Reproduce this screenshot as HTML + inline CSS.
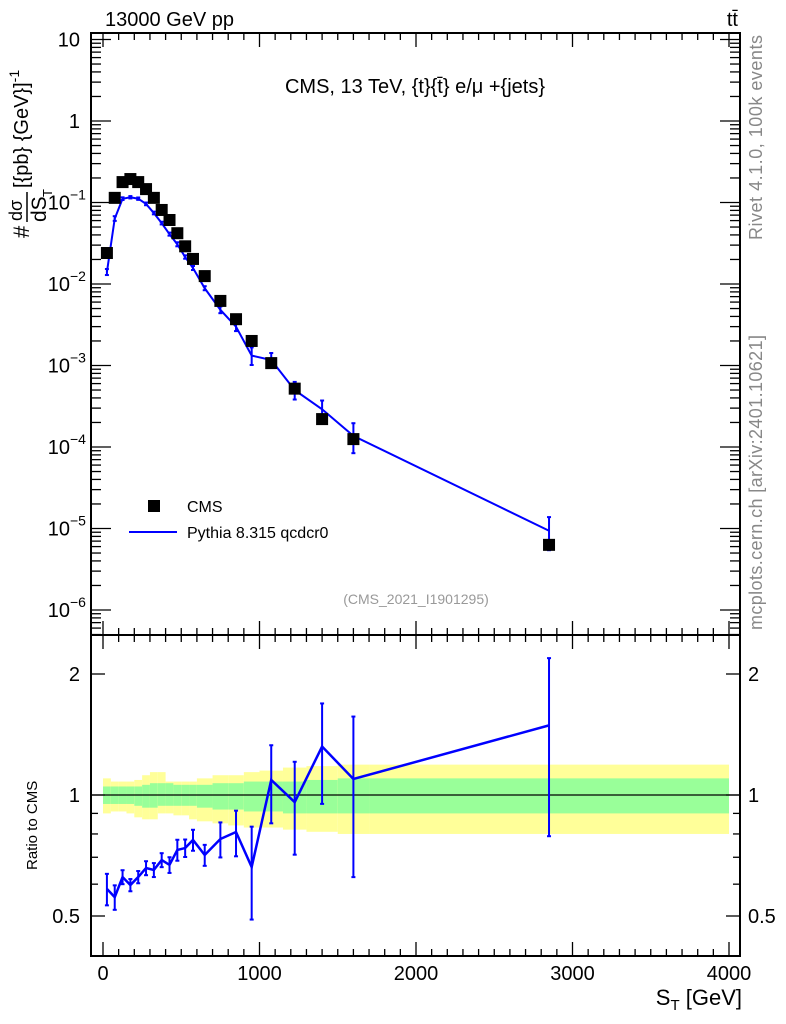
<!DOCTYPE html>
<html><head><meta charset="utf-8"><style>
html,body{margin:0;padding:0;background:#fff;}
svg{display:block;font-family:"Liberation Sans",sans-serif;}
</style></head><body>
<svg id="c" width="786" height="1024" viewBox="0 0 786 1024" xmlns="http://www.w3.org/2000/svg">
<g id="bands"></g>
<g id="marks"></g>
<g id="axes"></g>
<text x="105" y="26" font-size="20">13000 GeV pp</text>
<text x="738" y="26" font-size="20" text-anchor="end">tt̄</text>
<text x="415" y="93" font-size="20" text-anchor="middle">CMS, 13 TeV, {t}{t̄} e/μ +{jets}</text>
<text x="416" y="604" font-size="14" fill="#999" text-anchor="middle">(CMS_2021_I1901295)</text>
<text transform="translate(762,240) rotate(-90)" font-size="18" textLength="205" fill="#888">Rivet 4.1.0,  100k events</text>
<text transform="translate(762,630) rotate(-90)" font-size="18" textLength="295" fill="#888">mcplots.cern.ch [arXiv:2401.10621]</text>
<g transform="translate(0,240) rotate(-90)">
<text x="2" y="29" font-size="22">#</text>
<text x="19" y="22" font-size="18">dσ</text>
<line x1="18" y1="27" x2="48" y2="27" stroke="#000" stroke-width="1.5"/>
<text x="18" y="46" font-size="21">dS</text>
<text x="43" y="52" font-size="13">T</text>
<text x="52" y="28" font-size="20">[{pb} {GeV}]<tspan font-size="14" dy="-9">-1</tspan></text>
</g>
<text transform="translate(37,870) rotate(-90)" font-size="15">Ratio to CMS</text>
<text x="742" y="1005" font-size="22" text-anchor="end">S<tspan font-size="15" dy="5">T</tspan><tspan dy="-5"> [GeV]</tspan></text>
<g>
<rect x="148" y="500" width="12" height="12" fill="#000"/>
<text x="187" y="512" font-size="16">CMS</text>
<line x1="129" y1="532" x2="177" y2="532" stroke="#00f" stroke-width="2"/>
<text x="187" y="538" font-size="16">Pythia 8.315 qcdcr0</text>
</g>
</svg>
<script>
const binEdges=[0,50,100,150,200,250,300,350,400,450,500,550,600,700,800,900,1000,1150,1300,1500,1700,4000];
const centers=[25,75,125,175,225,275,325,375,425,475,525,575,650,750,850,950,1075,1225,1400,1600,2850];
const cmsValues=[0.024,0.114,0.178,0.194,0.178,0.146,0.114,0.081,0.061,0.042,0.029,0.0203,0.0125,0.0062,0.0037,0.0020,0.00107,0.00052,0.00022,0.000125,6.3e-6];
const ratioValues=[0.584,0.557,0.625,0.597,0.625,0.658,0.651,0.689,0.67,0.73,0.738,0.773,0.709,0.777,0.809,0.662,1.09,0.96,1.32,1.096,1.49];
const mcRelErr=[0.09,0.07,0.04,0.035,0.035,0.04,0.04,0.04,0.045,0.06,0.05,0.06,0.06,0.1,0.13,0.26,0.22,0.26,0.28,0.43,0.47];
const greenUp=[0.05,0.05,0.05,0.05,0.05,0.06,0.07,0.07,0.07,0.06,0.06,0.06,0.06,0.07,0.07,0.08,0.08,0.08,0.09,0.1,0.1];
const greenDn=[0.05,0.05,0.05,0.05,0.06,0.07,0.07,0.06,0.06,0.06,0.06,0.06,0.07,0.08,0.08,0.09,0.09,0.1,0.1,0.1,0.1];
const yellowUp=[0.1,0.08,0.08,0.08,0.09,0.12,0.14,0.14,0.08,0.08,0.08,0.08,0.1,0.12,0.12,0.14,0.15,0.17,0.18,0.19,0.19];
const yellowDn=[0.1,0.09,0.09,0.1,0.12,0.13,0.13,0.1,0.1,0.11,0.11,0.13,0.14,0.15,0.16,0.17,0.17,0.18,0.19,0.2,0.2];
const ratioTicks=[0.5,1,2];
const L=91,R=740,T=33,MB=635,RB=956;
const X=v=>103+v*0.1565;
const Y=v=>121-Math.log10(v)*81.5;
const RY=v=>795-Math.log2(v)*121;
const NS='http://www.w3.org/2000/svg';
function mk(tag,attrs,parent){const e=document.createElementNS(NS,tag);for(const k in attrs)e.setAttribute(k,attrs[k]);parent.appendChild(e);return e;}
const bands=document.getElementById('bands'),marks=document.getElementById('marks'),axes=document.getElementById('axes');
for(let i=0;i<centers.length;i++){
 const x0=X(binEdges[i]),x1=X(binEdges[i+1]);
 const y=mk('rect',{x:x0,y:RY(1+yellowUp[i]),width:x1-x0,height:RY(1-yellowDn[i])-RY(1+yellowUp[i]),fill:'#ffff99'},bands);
 
 
 const g=mk('rect',{x:x0,y:RY(1+greenUp[i]),width:x1-x0,height:RY(1-greenDn[i])-RY(1+greenUp[i]),fill:'#99ff99'},bands);
 
 
}
const one=mk('line',{x1:L,x2:R,y1:RY(1),y2:RY(1),stroke:'#000','stroke-width':1.3},bands);


const mcVals=cmsValues.map((v,i)=>v*ratioValues[i]);
const mline=mk('polyline',{points:centers.map((c,i)=>X(c)+','+Y(mcVals[i])).join(' '),fill:'none',stroke:'#00f','stroke-width':2},marks);


const rline=mk('polyline',{points:centers.map((c,i)=>X(c)+','+RY(ratioValues[i])).join(' '),fill:'none',stroke:'#00f','stroke-width':2.5},marks);


function errbar(x,y1,y2,name){
 const g=mk('g',{stroke:'#00f','stroke-width':2},marks);
 
 
 mk('line',{x1:x,x2:x,y1:y1,y2:y2},g);
 mk('line',{x1:x-2,x2:x+2,y1:y1,y2:y1},g);
 mk('line',{x1:x-2,x2:x+2,y1:y2,y2:y2},g);
}
for(let i=0;i<centers.length;i++){
 const x=X(centers[i]);
 errbar(x,Y(mcVals[i]*(1+mcRelErr[i])),Y(mcVals[i]*(1-mcRelErr[i]*0.9)),'pythia-errorbar');
 const r=ratioValues[i];
 errbar(x,RY(r*(1+mcRelErr[i])),RY(r*(1-mcRelErr[i])),'ratio-errorbar');
 const s=mk('rect',{x:x-6,y:Y(cmsValues[i])-6,width:12,height:12,fill:'#000'},marks);
 
 
}
const f1=mk('rect',{x:L,y:T,width:R-L,height:MB-T,fill:'none',stroke:'#000','stroke-width':2},axes);


const f2=mk('rect',{x:L,y:MB,width:R-L,height:RB-MB,fill:'none',stroke:'#000','stroke-width':2},axes);


for(let v=0;v<=4000;v+=100){
 const x=X(v),big=v%1000===0,len=big?14:7;
 [[T,1],[MB,1],[MB,-1],[RB,-1]].forEach(([y,d])=>mk('line',{x1:x,x2:x,y1:y,y2:y+d*len,stroke:'#000','stroke-width':1.3},axes));
 if(big){const t=mk('text',{x:x,y:980,'font-size':20,'text-anchor':'middle'},axes);t.textContent=v;
 
 }
}
const labs={'-6':'10','-5':'10','-4':'10','-3':'10','-2':'10','-1':'10','0':'1','1':'10'};
for(let e=-7;e<=1;e++){
 for(let m=1;m<10;m++){
  const v=m*Math.pow(10,e),y=Y(v);
  if(y<T||y>MB)continue;
  const len=m===1?20:10;
  mk('line',{x1:L,x2:L+len,y1:y,y2:y,stroke:'#000','stroke-width':1.3},axes);
  mk('line',{x1:R,x2:R-len,y1:y,y2:y,stroke:'#000','stroke-width':1.3},axes);
  if(m===1&&labs[e]!==undefined){
   const t=mk('text',{x:e<0?70:80,y:y+7,'font-size':20,'text-anchor':'end'},axes);
   t.textContent=labs[e];
   
   
   if(e<0){const s=mk('text',{x:70,y:y-3,'font-size':14},axes);s.textContent='−'+(-e);}
  }
 }
}
[0.5,0.6,0.7,0.8,0.9,1,2].forEach(v=>{const y=RY(v);const big=ratioTicks.includes(v);const len=big?14:7;
 mk('line',{x1:L,x2:L+len,y1:y,y2:y,stroke:'#000','stroke-width':1.3},axes);
 mk('line',{x1:R,x2:R-len,y1:y,y2:y,stroke:'#000','stroke-width':1.3},axes);});
ratioTicks.forEach(v=>{const y=RY(v)+7;
 const t=mk('text',{x:80,y:y,'font-size':20,'text-anchor':'end'},axes);t.textContent=v;
 
 
 const t2=mk('text',{x:748,y:y,'font-size':20},axes);t2.textContent=v;
 
 });
</script>
</body></html>
